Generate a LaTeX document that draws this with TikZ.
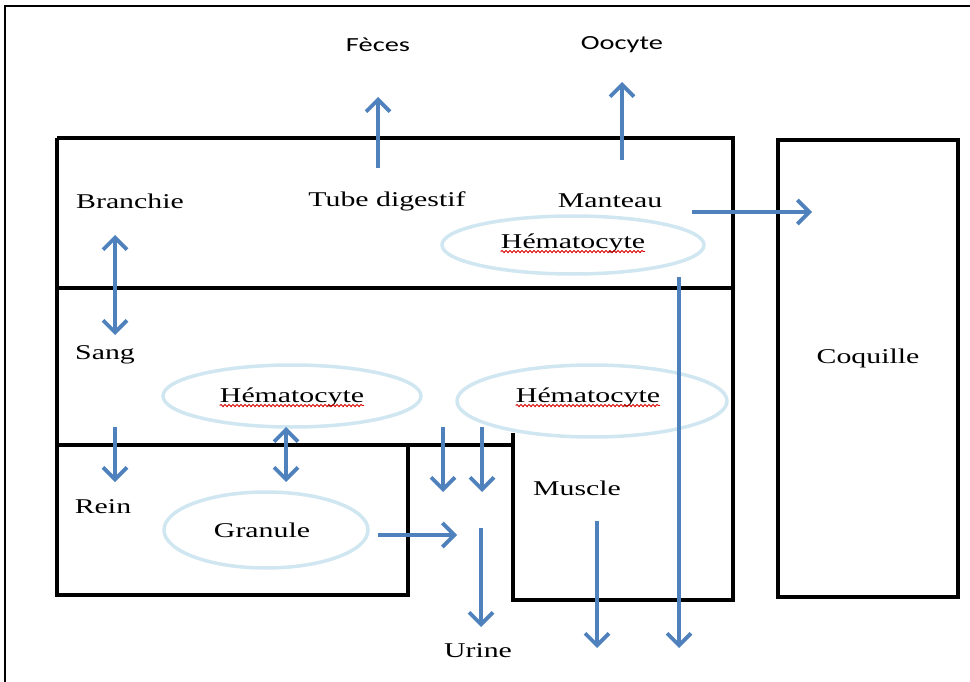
\documentclass[tikz,border=0pt]{standalone}
\usepackage{fontspec}
\setmainfont{Liberation Serif}
\newfontfamily\calfont{Carlito}
\usetikzlibrary{arrows.meta,decorations.pathmorphing,shapes.geometric}
\definecolor{arr}{RGB}{79,129,189}
\definecolor{ell}{RGB}{208,230,241}
\newcommand\hs[1]{\scalebox{1.42}[1]{#1}}
\begin{document}
\begin{tikzpicture}[x=1pt,y=-1pt,
  wall/.style={line width=4pt, line join=miter},
  frameline/.style={line width=1.5pt},
  lbl/.style={inner sep=0pt, font=\fontsize{21}{25}\selectfont},
  slbl/.style={inner sep=0pt, font=\calfont\fontsize{20}{24}\selectfont},
  tip/.style={},
  flow/.style={draw=arr, line width=3.8pt, -{Straight Barb[length=12pt,width=24pt,line width=3.8pt]}},
  bflow/.style={draw=arr, line width=3.8pt, {Straight Barb[length=12pt,width=24pt,line width=3.8pt]}-{Straight Barb[length=12pt,width=24pt,line width=3.8pt]}},
  cell/.style={ellipse, draw=ell, line width=3.5pt, inner sep=0pt},
  squig/.style={draw=red!85!black, line width=0.9pt, decorate, decoration={snake, amplitude=1.1pt, segment length=4pt}}
]
\useasboundingbox (0,0) rectangle (970,682);
% outer frame
\draw[frameline] (5,682) -- (5,6) -- (970,6);
% compartments
\draw[wall] (57,138) -- (733,138) -- (733,600) -- (513,600) -- (513,433);
\draw[wall] (57,138) -- (57,595) -- (408,595) -- (408,445);
\draw[wall] (57,288) -- (733,288);
\draw[wall] (57,445) -- (513,445);
\draw[wall] (778,140) rectangle (958,597);

% ellipses
\node[cell, minimum width=262pt, minimum height=58pt] (ehm) at (573,245) {};
\node[cell, minimum width=258pt, minimum height=62pt] (ehl) at (292,396) {};
\node[cell, minimum width=270pt, minimum height=72pt] (ehr) at (592,401) {};
\node[cell, minimum width=204pt, minimum height=76pt] (egr) at (266,530) {};

% labels
\node[slbl] (feces) at (378,45) {\hs{Fèces}};
\node[slbl] (oocyte) at (622,45) {\hs{Oocyte}};
\node[lbl] (branchie) at (130,201) {\hs{Branchie}};
\node[lbl] (tube) at (387,201) {\hs{Tube digestif}};
\node[lbl] (manteau) at (610,201) {\hs{Manteau}};
\node[lbl] (hm) at (573,243) {\hs{Hématocyte}};
\node[lbl] (sang) at (105,355) {\hs{Sang}};
\node[lbl] (hl) at (292,397) {\hs{Hématocyte}};
\node[lbl] (hr) at (588,397) {\hs{Hématocyte}};
\node[lbl] (rein) at (103,507) {\hs{Rein}};
\node[lbl] (granule) at (262,530) {\hs{Granule}};
\node[lbl] (muscle) at (577,488) {\hs{Muscle}};
\node[lbl] (coquille) at (868,358) {\hs{Coquille}};
\node[lbl] (urine) at (478,651) {\hs{Urine}};

% spell-check squiggles
\foreach \n in {hm,hl,hr}{
  \draw[squig] ([yshift=-3.5pt]\n.base west) -- ([yshift=-3.5pt]\n.base east);
}

% arrow end points
\coordinate (fs) at (378,168); \coordinate (ft) at (378,97);
\coordinate (os) at (622,160); \coordinate (ot) at (622,82);
\coordinate (cs) at (692,212); \coordinate (ct) at (812,212);
\coordinate (bs) at (115,235); \coordinate (bt) at (115,335);
\coordinate (rs) at (115,427); \coordinate (rt) at (115,482);
\coordinate (gs) at (286,427); \coordinate (gt) at (286,482);
\coordinate (k1s) at (443,427); \coordinate (k1t) at (443,492);
\coordinate (k2s) at (482,427); \coordinate (k2t) at (482,492);
\coordinate (us) at (378,535); \coordinate (ut) at (457,535);
\coordinate (vs) at (481,528); \coordinate (vt) at (481,627);
\coordinate (ms) at (597,521); \coordinate (mt) at (597,648);
\coordinate (ls) at (679,277); \coordinate (lt) at (679,648);

% arrows
\draw[flow] (fs) -- (ft);
\draw[flow] (os) -- (ot);
\draw[flow] (cs) -- (ct);
\draw[bflow] (bs) -- (bt);
\draw[flow] (rs) -- (rt);
\draw[bflow] (gs) -- (gt);
\draw[flow] (k1s) -- (k1t);
\draw[flow] (k2s) -- (k2t);
\draw[flow] (us) -- (ut);
\draw[flow] (vs) -- (vt);
\draw[flow] (ms) -- (mt);
\draw[flow] (ls) -- (lt);
\end{tikzpicture}
\end{document}
